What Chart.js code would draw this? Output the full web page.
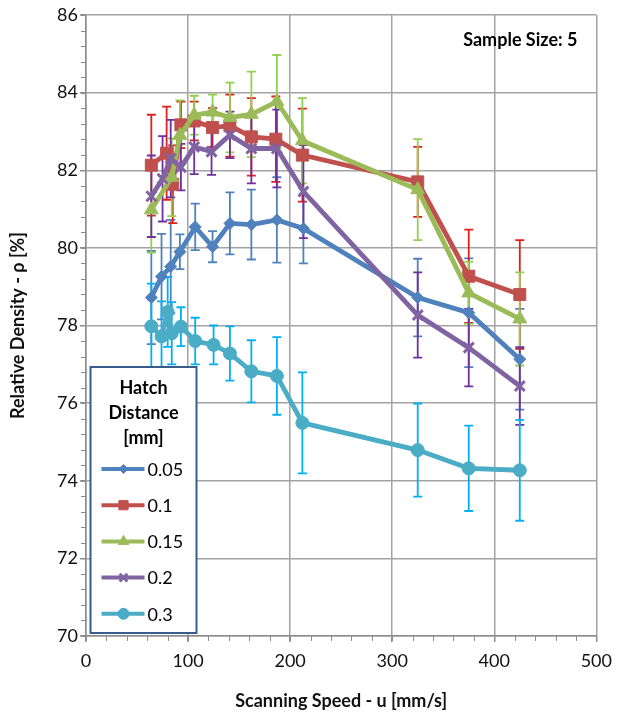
<!DOCTYPE html>
<html><head><meta charset="utf-8">
<script src="https://cdn.jsdelivr.net/npm/chart.js@4/dist/chart.umd.min.js"></script>
<style>html,body{margin:0;padding:0;background:#fff;}#wrap{width:620px;height:714px;}</style>
</head><body><div id="wrap"><canvas id="c" width="620" height="714"></canvas></div>
<script>
// ---- data ----
const seriesLabels = ['0.05', '0.1', '0.15', '0.2', '0.3'];

const speed005   = [64, 74, 83, 92, 107, 124, 141, 162, 187, 213, 325, 375, 425];
const density005 = [78.72, 79.26, 79.52, 79.9, 80.54, 80.03, 80.63, 80.6, 80.72, 80.5, 78.72, 78.33, 77.13];
const error005   = [1.2, 1.1, 1.2, 0.45, 0.6, 0.4, 0.8, 0.9, 1.1, 0.9, 1.0, 1.4, 1.3];

const speed01    = [64, 79, 85, 93, 106, 124, 141, 162, 186, 212, 325, 375, 425];
const density01  = [82.13, 82.44, 81.64, 83.17, 83.27, 83.1, 83.15, 82.86, 82.8, 82.39, 81.7, 79.27, 78.8];
const error01    = [1.3, 1.2, 1.0, 0.6, 0.5, 0.5, 0.8, 1.0, 1.1, 1.2, 0.9, 1.2, 1.4];

const speed015   = [64, 84, 92, 106, 124, 141, 162, 187, 212, 325, 375, 425];
const density015 = [80.98, 81.82, 82.9, 83.42, 83.5, 83.36, 83.44, 83.77, 82.76, 81.5, 78.84, 78.17];
const error015   = [1.1, 1.0, 0.9, 0.5, 0.45, 0.9, 1.1, 1.2, 1.1, 1.3, 0.8, 1.2];

const speed02    = [64, 75, 83, 93, 106, 123, 141, 162, 187, 213, 325, 375, 425];
const density02  = [81.33, 81.78, 82.3, 82.08, 82.6, 82.48, 82.91, 82.56, 82.56, 81.45, 78.27, 77.43, 76.44];
const error02    = [1.05, 1.1, 1.0, 0.6, 0.7, 0.6, 0.6, 0.9, 1.0, 1.2, 1.1, 1.0, 1.0];

const speed03    = [64, 74, 80, 84, 93, 107, 125, 141, 162, 187, 212, 325, 375, 425];
const density03  = [77.98, 77.72, 78.35, 77.8, 77.97, 77.6, 77.5, 77.28, 76.82, 76.7, 75.49, 74.79, 74.32, 74.27];
const error03    = [1.1, 0.9, 0.9, 0.8, 0.5, 0.6, 0.5, 0.7, 0.8, 1.0, 1.3, 1.2, 1.1, 1.3];

const xTickValues = [0, 100, 200, 300, 400, 500];
const yTickValues = [70, 72, 74, 76, 78, 80, 82, 84, 86];

const xTitle = 'Scanning Speed - u [mm/s]';
const yTitle = 'Relative Density - \u03c1 [%]';
const legendTitle = ['Hatch', 'Distance', '[mm]'];
const noteText = 'Sample Size: 5';

// ---- styles ----
const FONT = 'Lato, "Open Sans", sans-serif';
const lineColors = ['#4F81BD', '#C0504D', '#9BBB59', '#8064A2', '#4BACC6'];
const barColors  = ['#4F81BD', '#E0201C', '#92D050', '#7030A0', '#00B0F0'];
const pointStyles = ['rectRot', 'rect', 'triangle', 'crossRot', 'circle'];
const pointRadii  = [6, 8.5, 8, 7, 6.5];
const legendRadii = [4.5, 6.5, 6, 5.5, 5.5];

const speeds = [speed005, speed01, speed015, speed02, speed03];
const densities = [density005, density01, density015, density02, density03];
const errors = [error005, error01, error015, error02, error03];

const datasets = seriesLabels.map((lab, i) => ({
  label: lab,
  data: speeds[i].map((s, j) => ({ x: s, y: densities[i][j] })),
  errs: errors[i],
  showLine: true,
  borderColor: lineColors[i],
  backgroundColor: lineColors[i],
  borderWidth: 4.8,
  pointStyle: pointStyles[i],
  pointRadius: pointRadii[i],
  pointHoverRadius: pointRadii[i],
  pointBorderWidth: pointStyles[i] === 'crossRot' ? 3 : 1,
  pointBorderColor: lineColors[i],
  pointBackgroundColor: lineColors[i],
  tension: 0,
  order: seriesLabels.length - i,
  barColor: barColors[i],
  clip: false
}));

const errorBarPlugin = {
  id: 'errorBars',
  beforeDatasetsDraw(chart) {
    const ctx = chart.ctx, xs = chart.scales.x, ys = chart.scales.y;
    ctx.save();
    chart.data.datasets.forEach((ds) => {
      ctx.strokeStyle = ds.barColor;
      ctx.lineWidth = 1.8;
      ds.data.forEach((p, j) => {
        const e = ds.errs[j];
        const px = xs.getPixelForValue(p.x);
        const top = ys.getPixelForValue(p.y + e);
        const bot = ys.getPixelForValue(p.y - e);
        ctx.beginPath();
        ctx.moveTo(px, top); ctx.lineTo(px, bot);
        ctx.moveTo(px - 4.5, top); ctx.lineTo(px + 4.5, top);
        ctx.moveTo(px - 4.5, bot); ctx.lineTo(px + 4.5, bot);
        ctx.stroke();
      });
    });
    ctx.restore();
  }
};

const minorTickPlugin = {
  id: 'minorTicks',
  afterDraw(chart) {
    const ctx = chart.ctx, xs = chart.scales.x, ys = chart.scales.y, a = chart.chartArea;
    ctx.save();
    ctx.strokeStyle = '#8c8c8c';
    ctx.lineWidth = 1;
    ctx.beginPath();
    for (let v = ys.min; v <= ys.max + 1e-6; v += 0.4) {
      const py = Math.round(ys.getPixelForValue(v)) + 0.5;
      ctx.moveTo(a.left - 5, py); ctx.lineTo(a.left, py);
    }
    for (let v = xs.min; v <= xs.max + 1e-6; v += 20) {
      const px = Math.round(xs.getPixelForValue(v)) + 0.5;
      ctx.moveTo(px, a.bottom); ctx.lineTo(px, a.bottom + 5);
    }
    ctx.stroke();
    ctx.restore();
  }
};

const overlayPlugin = {
  id: 'overlay',
  afterDraw(chart) {
    const ctx = chart.ctx, a = chart.chartArea;
    ctx.save();
    // note text
    ctx.fillStyle = '#000';
    ctx.font = 'bold 18px ' + FONT;
    ctx.textAlign = 'center';
    ctx.textBaseline = 'middle';
    ctx.fillText(noteText, a.right - 76, a.top + 25);

    // legend box
    const bx = a.left + 4.5, by = a.top + 352, bw = 106, bh = 266;
    ctx.fillStyle = '#fff';
    ctx.fillRect(bx, by, bw, bh);
    ctx.strokeStyle = '#385D8A';
    ctx.lineWidth = 2;
    ctx.strokeRect(bx, by, bw, bh);

    ctx.fillStyle = '#000';
    ctx.font = 'bold 18px ' + FONT;
    ctx.textAlign = 'center';
    legendTitle.forEach((t, i) => ctx.fillText(t, bx + bw / 2, by + 21 + i * 25));

    ctx.font = '18px ' + FONT;
    ctx.textAlign = 'left';
    chart.data.datasets.forEach((ds, i) => {
      const cy = by + 102 + i * 36.2;
      ctx.strokeStyle = ds.borderColor;
      ctx.lineWidth = 4;
      ctx.beginPath();
      ctx.moveTo(bx + 11, cy); ctx.lineTo(bx + 54, cy);
      ctx.stroke();
      ctx.fillStyle = ds.borderColor;
      ctx.strokeStyle = ds.borderColor;
      ctx.lineWidth = ds.pointStyle === 'crossRot' ? 3 : 1;
      Chart.helpers.drawPoint(ctx, { pointStyle: ds.pointStyle, radius: legendRadii[i], rotation: 0, borderWidth: ctx.lineWidth }, bx + 33, cy);
      ctx.fillStyle = '#000';
      ctx.fillText(ds.label, bx + 57, cy + 1);
    });
    ctx.restore();
  }
};

const gridColor = '#a3a3a3';
new Chart(document.getElementById('c'), {
  type: 'scatter',
  data: { datasets },
  options: {
    responsive: false,
    animation: false,
    devicePixelRatio: 1,
    layout: { padding: { top: 15, right: 16, left: 0, bottom: 0 } },
    plugins: { legend: { display: false }, tooltip: { enabled: false } },
    scales: {
      x: {
        type: 'linear', min: 0, max: 500,
        afterFit(s) { s.height = 78; },
        afterBuildTicks(s) { s.ticks = xTickValues.map(v => ({ value: v })); },
        ticks: { color: '#111', font: { family: FONT, size: 18 }, padding: 8 },
        grid: { color: gridColor, lineWidth: 1.5, tickLength: 6, tickColor: '#8c8c8c', drawTicks: true },
        border: { color: '#8c8c8c', width: 1.5 },
        title: { display: true, text: xTitle, color: '#111', font: { family: FONT, size: 18, weight: 'bold' }, padding: { top: 4, bottom: 2 } }
      },
      y: {
        type: 'linear', min: 70, max: 86,
        afterFit(s) { s.width = 86; },
        afterBuildTicks(s) { s.ticks = yTickValues.map(v => ({ value: v })); },
        ticks: { color: '#111', font: { family: FONT, size: 18 }, padding: 2 },
        grid: { color: gridColor, lineWidth: 1.5, tickLength: 6, tickColor: '#8c8c8c', drawTicks: true },
        border: { color: '#8c8c8c', width: 1.5 },
        title: { display: true, text: yTitle, color: '#111', font: { family: FONT, size: 18, weight: 'bold' }, padding: { top: 7, bottom: 4 } }
      }
    }
  },
  plugins: [errorBarPlugin, minorTickPlugin, overlayPlugin]
});
</script>
</body></html>
